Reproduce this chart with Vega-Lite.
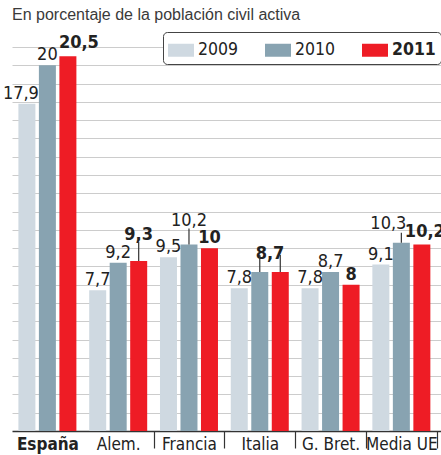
{
  "$schema": "https://vega.github.io/schema/vega-lite/v6.json",
  "width": 429,
  "height": 384,
  "autosize": {"type": "none"},
  "padding": {"left": 12, "top": 47, "right": 0, "bottom": 24},
  "background": "white",
  "title": {
    "text": "En porcentaje de la población civil activa",
    "anchor": "start",
    "frame": "group",
    "font": "Liberation Sans",
    "fontSize": 16,
    "fontWeight": "normal",
    "color": "#3a3a3a",
    "baseline": "alphabetic",
    "offset": -4
  },
  "config": {
    "view": {"stroke": null},
    "locale": {"number": {"decimal": ",", "thousands": ".", "grouping": [3], "currency": ["", " €"]}},
    "text": {"font": "Liberation Sans Narrow, DejaVu Sans Condensed, Roboto Condensed, Roboto, sans-serif", "fontSize": 18, "color": "#222222", "baseline": "alphabetic"}
  },
  "data": {
    "values": [
      {"pais": "España", "year": "2009", "value": 17.9},
      {"pais": "España", "year": "2010", "value": 20},
      {"pais": "España", "year": "2011", "value": 20.5},
      {"pais": "Alem.", "year": "2009", "value": 7.7},
      {"pais": "Alem.", "year": "2010", "value": 9.2},
      {"pais": "Alem.", "year": "2011", "value": 9.3},
      {"pais": "Francia", "year": "2009", "value": 9.5},
      {"pais": "Francia", "year": "2010", "value": 10.2},
      {"pais": "Francia", "year": "2011", "value": 10},
      {"pais": "Italia", "year": "2009", "value": 7.8},
      {"pais": "Italia", "year": "2010", "value": 8.7},
      {"pais": "Italia", "year": "2011", "value": 8.7},
      {"pais": "G. Bret.", "year": "2009", "value": 7.8},
      {"pais": "G. Bret.", "year": "2010", "value": 8.7},
      {"pais": "G. Bret.", "year": "2011", "value": 8},
      {"pais": "Media UE", "year": "2009", "value": 9.1},
      {"pais": "Media UE", "year": "2010", "value": 10.3},
      {"pais": "Media UE", "year": "2011", "value": 10.2}
    ]
  },
  "encoding": {
    "x": {
      "field": "pais",
      "type": "nominal",
      "sort": null,
      "scale": {"paddingInner": 0, "paddingOuter": 0.03, "align": 0},
      "axis": {
        "title": null,
        "labelAngle": 0,
        "domainColor": "#333333",
        "domainWidth": 1.5,
        "tickBand": "extent",
        "tickSize": 17,
        "tickWidth": 1.2,
        "tickColor": "#333333",
        "tickOpacity": {"condition": {"test": "datum.value === 'España' || datum.extra", "value": 0}, "value": 1},
        "labelPadding": -12,
        "labelFont": "Liberation Sans Narrow, DejaVu Sans Condensed, Roboto Condensed, Roboto, sans-serif",
        "labelFontSize": 17,
        "labelColor": "#222222",
        "labelFontWeight": {"condition": {"test": "datum.value === 'España'", "value": "bold"}, "value": "normal"},
        "labelBaseline": "top"
      }
    },
    "xOffset": {
      "field": "year",
      "type": "nominal",
      "scale": {"paddingInner": 0.171, "paddingOuter": 0.312}
    },
    "y": {
      "field": "value",
      "type": "quantitative",
      "scale": {"domain": [0, 21], "nice": false},
      "axis": {
        "title": null,
        "labels": false,
        "ticks": false,
        "domain": false,
        "values": [1, 2, 3, 4, 5, 6, 7, 8, 9, 10, 11, 12, 13, 14, 15, 16, 17, 18, 19, 20, 21],
        "gridColor": "#cccccc",
        "gridWidth": 1
      }
    }
  },
  "layer": [
    {
      "mark": {"type": "bar"},
      "encoding": {
        "color": {
          "field": "year",
          "type": "nominal",
          "scale": {"domain": ["2009", "2010", "2011"], "range": ["#cfd9e1", "#88a3b1", "#ee1c25"]},
          "legend": {
            "title": null,
            "orient": "none",
            "legendX": 151,
            "legendY": -15,
            "direction": "horizontal",
            "columns": 3,
            "strokeColor": "#444444",
            "cornerRadius": 4,
            "padding": 5,
            "fillColor": "white",
            "symbolType": "M-1,-0.5H1V0.5H-1Z",
            "symbolSize": 676,
            "symbolStrokeWidth": 0,
            "symbolOpacity": 1,
            "labelFont": "Liberation Sans Narrow, DejaVu Sans Condensed, Roboto Condensed, Roboto, sans-serif",
            "labelFontSize": 17.5,
            "labelColor": "#222222",
            "labelOffset": 4,
            "columnPadding": 26,
            "encode": {"labels": {"update": {"fontWeight": {"signal": "datum.value === '2011' ? 'bold' : 'normal'"}}}}
          }
        }
      }
    },
    {
      "transform": [{"filter": "datum.year !== '2011' && !(datum.pais === 'España' && datum.year === '2009') && !(datum.pais === 'Francia' && datum.year === '2010') && !(datum.pais === 'Media UE' && datum.year === '2010') && !(datum.pais === 'Italia' && datum.year === '2010')"}],
      "mark": {"type": "text", "dy": -5},
      "encoding": {"text": {"field": "value", "type": "quantitative", "format": ".1~f"}}
    },
    {
      "transform": [{"filter": "datum.pais === 'España' && datum.year === '2009'"}],
      "mark": {"type": "text", "dy": -5, "dx": -6},
      "encoding": {"text": {"field": "value", "type": "quantitative", "format": ".1~f"}}
    },
    {
      "transform": [{"filter": "datum.pais === 'Francia' && datum.year === '2010'"}],
      "mark": {"type": "text", "dy": -18},
      "encoding": {"text": {"field": "value", "type": "quantitative", "format": ".1~f"}}
    },
    {
      "transform": [{"filter": "datum.pais === 'Media UE' && datum.year === '2010'"}],
      "mark": {"type": "text", "dy": -14, "dx": -13},
      "encoding": {"text": {"field": "value", "type": "quantitative", "format": ".1~f"}}
    },
    {
      "transform": [{"filter": "datum.year === '2011' && datum.pais !== 'Alem.' && datum.pais !== 'Italia' && datum.pais !== 'España' && datum.pais !== 'Media UE'"}],
      "mark": {"type": "text", "dy": -5, "fontWeight": "bold"},
      "encoding": {"text": {"field": "value", "type": "quantitative", "format": ".1~f"}}
    },
    {
      "transform": [{"filter": "datum.year === '2011' && datum.pais === 'España'"}],
      "mark": {"type": "text", "dy": -8, "dx": 11, "fontWeight": "bold"},
      "encoding": {"text": {"field": "value", "type": "quantitative", "format": ".1~f"}}
    },
    {
      "transform": [{"filter": "datum.year === '2011' && datum.pais === 'Media UE'"}],
      "mark": {"type": "text", "dy": -7, "dx": 3, "fontWeight": "bold"},
      "encoding": {"text": {"field": "value", "type": "quantitative", "format": ".1~f"}}
    },
    {
      "transform": [{"filter": "datum.pais === 'Alem.' && datum.year === '2011'"}],
      "mark": {"type": "text", "dy": -21, "fontWeight": "bold"},
      "encoding": {"text": {"field": "value", "type": "quantitative", "format": ".1~f"}}
    },
    {
      "transform": [{"filter": "datum.pais === 'Italia' && datum.year === '2010'"}],
      "mark": {"type": "text", "dy": -13, "dx": 10.25, "fontWeight": "bold"},
      "encoding": {"text": {"field": "value", "type": "quantitative", "format": ".1~f"}}
    },
    {
      "transform": [{"filter": "datum.pais === 'Francia' && datum.year === '2010'"}],
      "mark": {"type": "rule", "y2Offset": -16, "color": "#333333", "strokeWidth": 1.2},
      "encoding": {"y2": {"field": "value"}}
    },
    {
      "transform": [{"filter": "datum.pais === 'Media UE' && datum.year === '2010'"}],
      "mark": {"type": "rule", "y2Offset": -10, "color": "#333333", "strokeWidth": 1.2},
      "encoding": {"y2": {"field": "value"}}
    },
    {
      "transform": [{"filter": "datum.pais === 'Alem.' && datum.year === '2011'"}],
      "mark": {"type": "rule", "y2Offset": -19, "color": "#333333", "strokeWidth": 1.2},
      "encoding": {"y2": {"field": "value"}}
    },
    {
      "transform": [{"filter": "datum.pais === 'Italia' && datum.year === '2010'"}],
      "mark": {"type": "rule", "y2Offset": -17, "xOffset": -4.5, "x2Offset": -4.5, "color": "#333333", "strokeWidth": 1.2},
      "encoding": {"y2": {"field": "value"}}
    },
    {
      "transform": [{"filter": "datum.pais === 'Italia' && datum.year === '2011'"}],
      "mark": {"type": "rule", "y2Offset": -17, "xOffset": 4, "x2Offset": 4, "color": "#333333", "strokeWidth": 1.2},
      "encoding": {"y2": {"field": "value"}}
    }
  ]
}
